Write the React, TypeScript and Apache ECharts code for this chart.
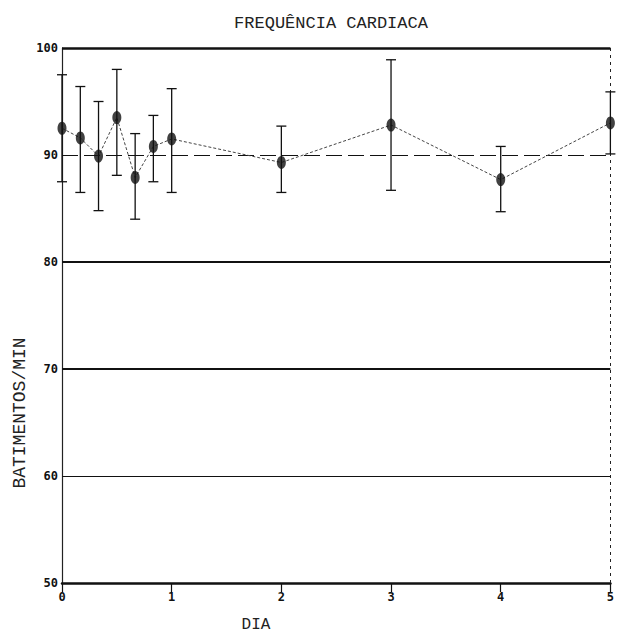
import React, { useEffect, useRef } from "react";
import * as echarts from "echarts";

const titleText = "FREQUÊNCIA CARDIACA";
const xAxisName = "DIA";
const yAxisName = "BATIMENTOS/MIN";

const days = [0, 0.167, 0.333, 0.5, 0.667, 0.833, 1, 2, 3, 4, 5];
const meanBpm = [92.5, 91.6, 89.9, 93.5, 87.9, 90.8, 91.5, 89.3, 92.8, 87.7, 93.0];
const upperBpm = [97.5, 96.4, 95.0, 98.0, 92.0, 93.7, 96.2, 92.7, 98.9, 90.8, 95.9];
const lowerBpm = [87.5, 86.5, 84.8, 88.1, 84.0, 87.5, 86.5, 86.5, 86.7, 84.7, 90.1];

const solidGridValues = [100, 80, 70, 60];
const gridWidths = [2.5, 2, 2, 1.2];
const referenceValue = 90;

const xMin = 0;
const xMax = 5;
const yMin = 50;
const yMax = 100;

export default function App() {
  const ref = useRef<HTMLDivElement>(null);

  useEffect(() => {
    if (!ref.current) return;
    const chart = echarts.init(ref.current, null, { renderer: "svg" });

    const markData: any[] = solidGridValues.map((v, i) => ({
      yAxis: v,
      lineStyle: { color: "#111", width: gridWidths[i], type: "solid" },
    }));
    markData.push({
      yAxis: referenceValue,
      lineStyle: { color: "#111", width: 1.2, type: [16, 6] },
    });
    markData.push({
      xAxis: xMax,
      lineStyle: { color: "#222", width: 1, type: [3, 4] },
    });

    const errData = days.map((d, i) => [d, lowerBpm[i], upperBpm[i]]);

    chart.setOption({
      animation: false,
      backgroundColor: "#fff",
      grid: { left: 62, right: 5, top: 48, bottom: 54, containLabel: false },
      graphic: [
        {
          type: "text",
          x: 331,
          y: 23,
          style: {
            text: titleText,
            font: '17px "Liberation Mono"',
            fill: "#222",
            align: "center",
            verticalAlign: "middle",
          },
        },
        {
          type: "text",
          x: 256,
          y: 625,
          style: {
            text: xAxisName,
            font: '16px "Liberation Mono"',
            fill: "#222",
            align: "center",
            verticalAlign: "middle",
          },
        },
        {
          type: "text",
          x: 20,
          y: 413,
          rotation: Math.PI / 2,
          style: {
            text: yAxisName,
            font: '18px "Liberation Mono"',
            fill: "#222",
            align: "center",
            verticalAlign: "middle",
          },
        },
      ],
      xAxis: {
        type: "value",
        min: xMin,
        max: xMax,
        interval: 1,
        axisLine: { show: true, lineStyle: { color: "#111", width: 2.5 } },
        axisTick: { show: true, length: 9, lineStyle: { color: "#111", width: 1.2 } },
        axisLabel: {
          color: "#111",
          fontFamily: "DejaVu Sans Mono",
          fontWeight: "bold",
          fontSize: 12,
          margin: 8,
          showMinLabel: true,
          showMaxLabel: true,
        },
        splitLine: { show: false },
      },
      yAxis: {
        type: "value",
        min: yMin,
        max: yMax,
        interval: 10,
        axisLine: { show: true, lineStyle: { color: "#222", width: 1.2 } },
        axisTick: { show: false },
        axisLabel: {
          color: "#111",
          fontFamily: "DejaVu Sans Mono",
          fontWeight: "bold",
          fontSize: 12,
          margin: 4,
          showMinLabel: true,
          showMaxLabel: true,
        },
        splitLine: { show: false },
      },
      series: [
        {
          type: "line",
          data: days.map((d, i) => [d, meanBpm[i]]),
          symbol: "none",
          lineStyle: { color: "#444", width: 1, type: [3, 2] },
          z: 3,
          markLine: {
            silent: true,
            symbol: "none",
            label: { show: false },
            data: markData,
            z: 1,
          },
        },
        {
          type: "custom",
          data: errData,
          encode: { x: 0, y: [1, 2] },
          z: 4,
          renderItem: (params: any, api: any) => {
            const x = api.value(0);
            const lo = api.coord([x, api.value(1)]);
            const hi = api.coord([x, api.value(2)]);
            const cap = 5;
            const style = { stroke: "#111", lineWidth: 1.3 };
            return {
              type: "group",
              children: [
                { type: "line", shape: { x1: hi[0], y1: hi[1], x2: lo[0], y2: lo[1] }, style },
                { type: "line", shape: { x1: hi[0] - cap, y1: hi[1], x2: hi[0] + cap, y2: hi[1] }, style },
                { type: "line", shape: { x1: lo[0] - cap, y1: lo[1], x2: lo[0] + cap, y2: lo[1] }, style },
              ],
            };
          },
        },
        {
          type: "scatter",
          data: days.map((d, i) => [d, meanBpm[i]]),
          symbol: "circle",
          symbolSize: [9, 13],
          itemStyle: { color: "#111" },
          z: 5,
        },
      ],
    });

    return () => chart.dispose();
  }, []);

  return (
    <div
      ref={ref}
      style={{ position: "fixed", left: 0, top: 0, width: 617, height: 637 }}
    />
  );
}
